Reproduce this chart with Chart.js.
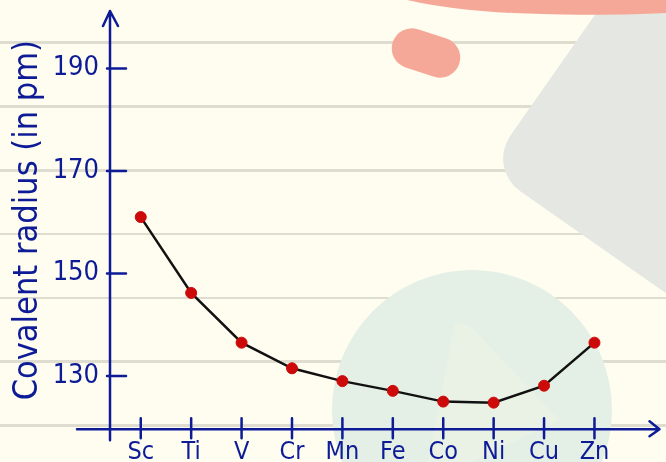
<!DOCTYPE html>
<html>
<head>
<meta charset="utf-8">
<script src="https://cdn.jsdelivr.net/npm/chart.js@4.4.1/dist/chart.umd.min.js"></script>
<style>
  html, body { margin: 0; padding: 0; }
  body {
    width: 666px; height: 462px; overflow: hidden; position: relative;
    background-color: #fefdf0;
  }
  .paper {
    position: absolute; left: 0; top: 0; width: 666px; height: 462px;
    background-image: repeating-linear-gradient(to bottom,
      transparent 0, transparent 41.5px, #dfdcd0 41.5px, #dfdcd0 44px, transparent 44px, transparent 63.8px);
  }
  .deco { position: absolute; }
  .band { left: 340px; top: -64px; width: 400px; height: 78px; background: #f6a898; border-radius: 0 0 60% 50% / 0 0 30% 60%; transform: rotate(2deg); }
  .pill { left: 391px; top: 33px; width: 70px; height: 40px; background: #f6a898; border-radius: 22px; transform: rotate(18deg); }
  .grey { left: 550px; top: -30px; width: 260px; height: 300px; background: #e5e7e3; border-radius: 40px; transform: rotate(35deg); }
  .teal { left: 332px; top: 270px; width: 280px; height: 280px; background: #e4efe5; border-radius: 50%; }
  .tri { left: 0; top: 0; width: 666px; height: 462px; background: #eaf2e6; clip-path: polygon(455px 322px, 470px 326px, 560px 420px, 470px 462px, 428px 462px); }
  canvas { position: absolute; left: 0; top: 0; }
</style>
</head>
<body>
<div class="paper"></div>
<div class="deco grey"></div>
<div class="deco teal"></div>
<div class="deco tri"></div>
<div class="deco band"></div>
<div class="deco pill"></div>
<canvas id="chart" width="666" height="462"></canvas>
<script>
const elements = ['Sc', 'Ti', 'V', 'Cr', 'Mn', 'Fe', 'Co', 'Ni', 'Cu', 'Zn'];
const covalentRadius = [161, 146.2, 136.5, 131.5, 129, 127.1, 125, 124.8, 128.1, 136.5];
const radiusTicks = [130, 150, 170, 190];

const ink = '#0d1b96';
const handFont = "'DejaVu Sans Condensed', 'Liberation Sans Narrow', 'Noto Sans', sans-serif";

const handAxes = {
  id: 'handAxes',
  beforeDatasetsDraw(chart) {
    const { ctx, chartArea: a, scales: { x, y } } = chart;
    ctx.save();
    ctx.strokeStyle = ink;
    ctx.lineWidth = 2.5;
    ctx.lineCap = 'round';
    ctx.lineJoin = 'round';
    ctx.beginPath();
    // y axis with arrow
    ctx.moveTo(a.left, a.bottom + 11);
    ctx.lineTo(a.left, a.top);
    ctx.moveTo(a.left - 7, a.top + 15);
    ctx.lineTo(a.left, a.top);
    ctx.lineTo(a.left + 8, a.top + 15);
    // x axis with arrow
    ctx.moveTo(a.left - 33, a.bottom);
    ctx.lineTo(a.right, a.bottom);
    ctx.moveTo(a.right - 10, a.bottom - 8);
    ctx.lineTo(a.right, a.bottom);
    ctx.lineTo(a.right - 10, a.bottom + 7);
    // tick marks
    radiusTicks.forEach(v => {
      const py = y.getPixelForValue(v);
      ctx.moveTo(a.left - 3, py);
      ctx.lineTo(a.left + 16, py);
    });
    elements.forEach((el, i) => {
      const px = x.getPixelForValue(i);
      ctx.moveTo(px, a.bottom - 11);
      ctx.lineTo(px, a.bottom + 9);
    });
    ctx.stroke();
    ctx.restore();
  }
};

new Chart(document.getElementById('chart'), {
  type: 'line',
  data: {
    datasets: [{
      data: elements.map((el, i) => ({ x: i, y: covalentRadius[i] })),
      borderColor: '#111111',
      borderWidth: 2.5,
      pointBackgroundColor: '#cc0a0a',
      pointBorderColor: '#cc0a0a',
      pointRadius: 5.5,
      pointBorderWidth: 1,
      tension: 0
    }]
  },
  plugins: [handAxes],
  options: {
    responsive: false,
    animation: false,
    layout: { padding: { left: 0, top: 11, right: 3, bottom: 0 } },
    plugins: {
      legend: { display: false },
      tooltip: { enabled: false }
    },
    scales: {
      x: {
        type: 'linear',
        min: -0.61,
        max: 10.29,
        afterBuildTicks: scale => { scale.ticks = elements.map((el, i) => ({ value: i })); },
        afterFit: scale => { scale.height = 32.7; scale.paddingLeft = 0; scale.paddingRight = 0; },
        grid: { display: false },
        border: { display: false },
        ticks: {
          autoSkip: false,
          maxRotation: 0,
          padding: 0,
          color: ink,
          font: { family: handFont, size: 25 },
          callback: v => elements[v]
        }
      },
      y: {
        min: 119.6,
        max: 201.2,
        afterBuildTicks: scale => { scale.ticks = radiusTicks.map(v => ({ value: v })); },
        afterFit: scale => { scale.width = 110; scale.paddingTop = 0; scale.paddingBottom = 0; },
        grid: { display: false },
        border: { display: false },
        ticks: {
          padding: 3,
          color: ink,
          font: { family: handFont, size: 27 }
        },
        title: {
          display: true,
          text: 'Covalent radius (in pm)',
          color: ink,
          font: { family: handFont, size: 34 },
          padding: { top: 8, bottom: 0 }
        }
      }
    }
  }
});
</script>
</body>
</html>
